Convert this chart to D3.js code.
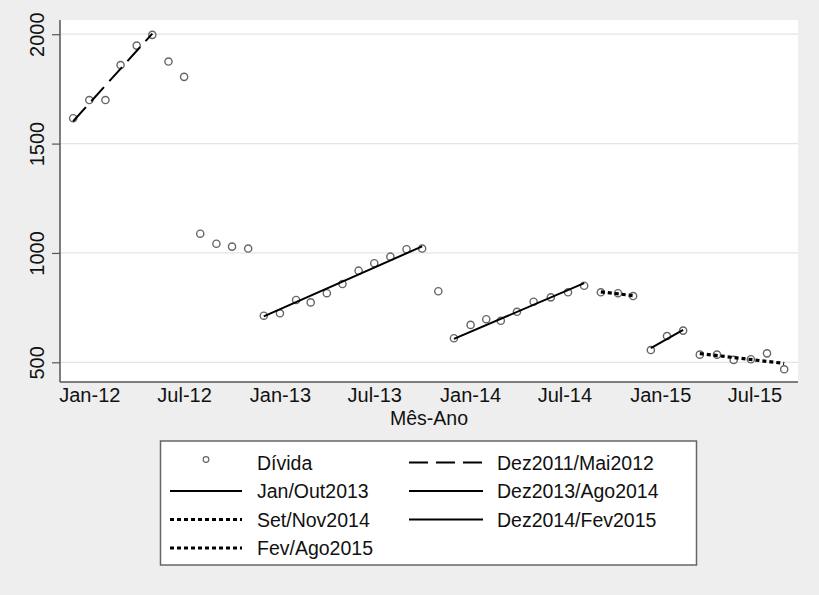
<!DOCTYPE html>
<html>
<head>
<meta charset="utf-8">
<script src="https://cdn.jsdelivr.net/npm/d3@7"></script>
<style>
  html, body { margin: 0; padding: 0; background: #eeeeee; }
  svg { display: block; }
  text { font-family: "Liberation Sans", Arial, Helvetica, sans-serif; fill: #111; }
</style>
</head>
<body>
<svg id="chart" width="819" height="595"></svg>
<script>
// ---- Data ----
const obsDates = [
  "2011-12-01","2012-01-01","2012-02-01","2012-03-01","2012-04-01","2012-05-01",
  "2012-06-01","2012-07-01","2012-08-01","2012-09-01","2012-10-01","2012-11-01",
  "2012-12-01","2013-01-01","2013-02-01","2013-03-01","2013-04-01","2013-05-01",
  "2013-06-01","2013-07-01","2013-08-01","2013-09-01","2013-10-01","2013-11-01",
  "2013-12-01","2014-01-02","2014-02-01","2014-03-01","2014-04-01","2014-05-03",
  "2014-06-05","2014-07-08","2014-08-08","2014-09-09","2014-10-12","2014-11-10",
  "2014-12-14","2015-01-14","2015-02-14","2015-03-18","2015-04-20","2015-05-22",
  "2015-06-24","2015-07-25","2015-08-27"
];
const divida = [
  1616,1699,1699,1859,1948,1997,
  1875,1805,1088,1042,1029,1020,
  713,724,785,774,816,858,
  919,953,983,1017,1020,825,
  610,671,697,690,731,777,
  797,820,850,820,816,803,
  556,620,645,535,535,511,
  514,541,468
];

const fitNames      = ["Dez2011/Mai2012","Jan/Out2013","Dez2013/Ago2014","Set/Nov2014","Dez2014/Fev2015","Fev/Ago2015"];
const fitStartDate  = ["2011-12-01","2012-12-01","2013-12-01","2014-09-09","2014-12-14","2015-03-18"];
const fitEndDate    = ["2012-05-01","2013-10-01","2014-08-08","2014-11-10","2015-02-14","2015-08-27"];
const fitStartValue = [1602, 710, 607, 822, 565, 540];
const fitEndValue   = [2003, 1030, 862, 805, 648, 495];

const yTicks = [500, 1000, 1500, 2000];
const xTickDates  = ["2012-01-01","2012-07-01","2013-01-01","2013-07-01","2014-01-01","2014-07-01","2015-01-01","2015-07-01"];
const xTickLabels = ["Jan-12","Jul-12","Jan-13","Jul-13","Jan-14","Jul-14","Jan-15","Jul-15"];
const xTitle = "Mês-Ano";
const pointLabel = "Dívida";

const legendCol1 = [pointLabel, "Jan/Out2013", "Set/Nov2014", "Fev/Ago2015"];
const legendCol2 = ["Dez2011/Mai2012", "Dez2013/Ago2014", "Dez2014/Fev2015"];

// ---- Layout ----
const parse = d3.utcParse("%Y-%m-%d");
const plot = { left: 60, right: 798, top: 20, bottom: 382 };
const svg = d3.select("#chart");

const x = d3.scaleUtc()
  .domain([parse("2012-01-01"), parse("2015-07-01")])
  .range([89.3, 754.5]);
const y = d3.scaleLinear()
  .domain([410, 2065])
  .range([plot.bottom, plot.top]);

const styleOf = name => {
  if (name === "Dez2011/Mai2012") return { dash: "19,8", width: 2 };
  if (name === "Set/Nov2014" || name === "Fev/Ago2015") return { dash: "4,3", width: 3.2 };
  return { dash: null, width: 2 };
};

svg.append("rect")
  .attr("x", plot.left).attr("y", plot.top)
  .attr("width", plot.right - plot.left).attr("height", plot.bottom - plot.top)
  .attr("fill", "#ffffff");

svg.append("g").selectAll("line").data(yTicks).join("line")
  .attr("x1", plot.left).attr("x2", plot.right)
  .attr("y1", d => y(d)).attr("y2", d => y(d))
  .attr("stroke", "#e4e4e4").attr("stroke-width", 1.2);

// y axis
const yAxis = d3.axisLeft(y).tickValues(yTicks).tickFormat(d3.format("d"))
  .tickSize(8).tickSizeOuter(0).tickPadding(0);
const gy = svg.append("g").attr("transform", `translate(${plot.left},0)`).call(yAxis);
gy.select(".domain").attr("stroke", "#555").attr("stroke-width", 1.5)
  .attr("d", `M0,${plot.top}V${plot.bottom}`);
gy.selectAll(".tick line").attr("stroke", "#555").attr("stroke-width", 1.2);
gy.selectAll(".tick text")
  .attr("x", 0).attr("y", 0).attr("dy", null)
  .attr("transform", "translate(-16,0) rotate(-90)")
  .attr("text-anchor", "middle")
  .style("font-size", "20px");

// x axis
const xAxis = d3.axisBottom(x)
  .tickValues(xTickDates.map(parse))
  .tickFormat((d, i) => xTickLabels[i])
  .tickSize(0).tickSizeOuter(0).tickPadding(0);
const gx = svg.append("g").attr("transform", `translate(0,${plot.bottom})`).call(xAxis);
gx.select(".domain").attr("stroke", "#555").attr("stroke-width", 1.5)
  .attr("d", `M${plot.left},0H${plot.right}`);
gx.selectAll(".tick text").attr("y", 20).attr("dy", null)
  .style("font-size", "20px");

svg.selectAll(".tick text").attr("fill", "#111").style("font-family", '"Liberation Sans", Arial, sans-serif');

svg.append("text")
  .attr("x", (plot.left + plot.right) / 2).attr("y", 425)
  .attr("text-anchor", "middle").style("font-size", "19.5px")
  .text(xTitle);

// points
const obs = obsDates.map((d, i) => ({ d: parse(d), v: divida[i] }));
svg.append("g").selectAll("circle").data(obs).join("circle")
  .attr("cx", o => x(o.d)).attr("cy", o => y(o.v)).attr("r", 3.6)
  .attr("fill", "none").attr("stroke", "#666").attr("stroke-width", 1.4);

// fit lines
const fits = fitNames.map((n, i) => ({
  name: n,
  pts: [
    { d: parse(fitStartDate[i]), v: fitStartValue[i] },
    { d: parse(fitEndDate[i]),   v: fitEndValue[i] }
  ]
}));
const lineGen = d3.line().x(p => x(p.d)).y(p => y(p.v));
svg.append("g").selectAll("path").data(fits).join("path")
  .attr("d", f => lineGen(f.pts))
  .attr("fill", "none").attr("stroke", "#000")
  .attr("stroke-width", f => styleOf(f.name).width)
  .attr("stroke-dasharray", f => styleOf(f.name).dash);

// legend
const lg = svg.append("g");
lg.append("rect").attr("x", 160.5).attr("y", 441).attr("width", 536).attr("height", 124)
  .attr("fill", "#fff").attr("stroke", "#666").attr("stroke-width", 1.5);

const rowY = [462.5, 491, 519.5, 548];
function legendItem(label, col, row) {
  const sx0 = col === 0 ? 170 : 409;
  const sx1 = col === 0 ? 242 : 483;
  const tx  = col === 0 ? 257 : 497;
  const yy = rowY[row];
  if (label === pointLabel) {
    lg.append("circle").attr("cx", (sx0 + sx1) / 2).attr("cy", yy - 3).attr("r", 2.8)
      .attr("fill", "none").attr("stroke", "#666").attr("stroke-width", 1.2);
  } else {
    const st = styleOf(label);
    lg.append("line").attr("x1", sx0).attr("x2", sx1).attr("y1", yy).attr("y2", yy)
      .attr("stroke", "#000").attr("stroke-width", st.width)
      .attr("stroke-dasharray", st.dash);
  }
  lg.append("text").attr("x", tx).attr("y", yy + 7).style("font-size", "19.5px").text(label);
}
legendCol1.forEach((l, i) => legendItem(l, 0, i));
legendCol2.forEach((l, i) => legendItem(l, 1, i));
</script>
</body>
</html>
